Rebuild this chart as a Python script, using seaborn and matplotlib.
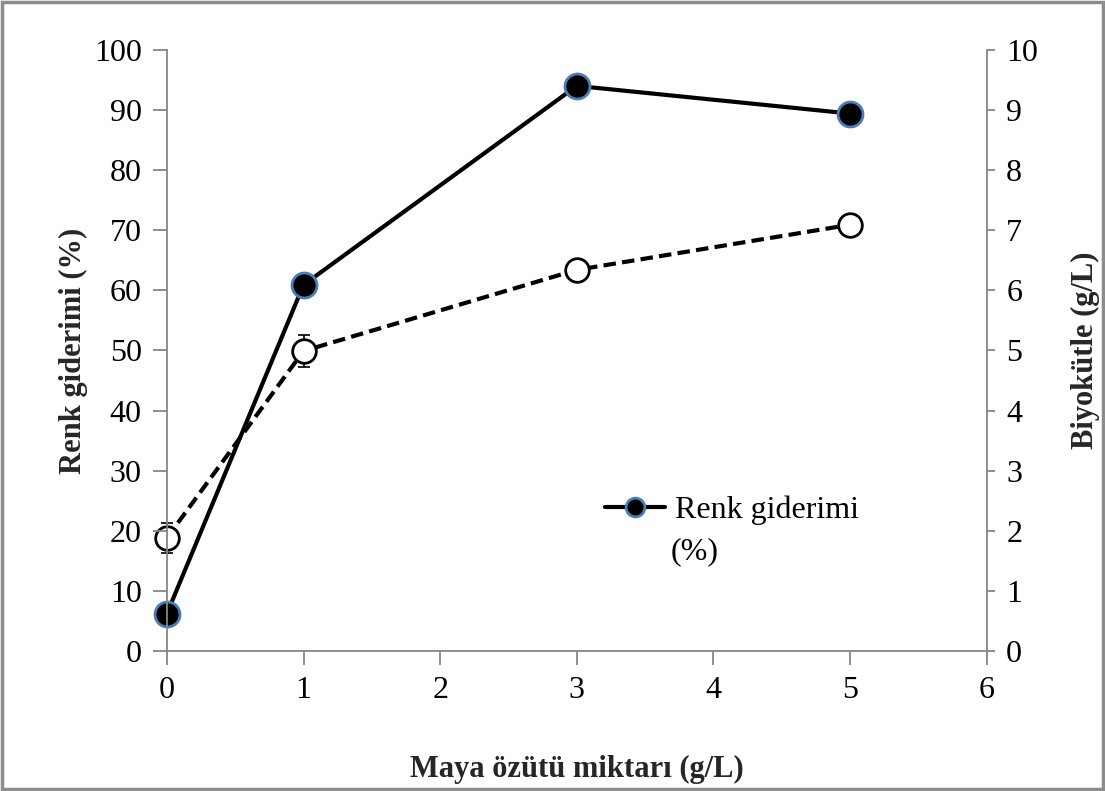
import matplotlib
matplotlib.use("Agg")
import matplotlib.pyplot as plt
import seaborn as sns
import pandas as pd
from matplotlib.patches import Rectangle

maya = [0, 1, 3, 5]
renk = [6.2, 60.9, 94.0, 89.4]
biyokutle = [1.88, 4.99, 6.34, 7.09]
biyo_err = [0.25, 0.27, 0, 0]

sns.set_theme(style="white")
plt.rcParams['font.family'] = ['Liberation Serif', 'DejaVu Serif']
plt.rcParams['text.color'] = 'black'

df1 = pd.DataFrame({"x": maya, "y": renk})
df2 = pd.DataFrame({"x": maya, "y": biyokutle})

fig = plt.figure(figsize=(11.05, 7.91), dpi=100)
ax = fig.add_axes([0.151, 0.177, 0.742, 0.760])
ax2 = ax.twinx()

gray = "#868686"

# Biyokütle (right axis) dashed, open markers
ax2.errorbar(maya, biyokutle, yerr=biyo_err, fmt="none", ecolor="black",
             elinewidth=1.2, capsize=4.5, capthick=1.2, zorder=2, clip_on=False)
sns.lineplot(data=df2, x="x", y="y", ax=ax2, color="black", linewidth=3,
             linestyle=(0, (3, 1.5)), marker="o", markersize=17,
             markerfacecolor="white", markeredgecolor="black",
             markeredgewidth=2, legend=False, zorder=3, clip_on=False)

# Renk giderimi (left axis) solid, filled markers
sns.lineplot(data=df1, x="x", y="y", ax=ax, color="black", linewidth=3,
             marker="o", markersize=18, markerfacecolor="black",
             markeredgecolor="#4a7ebb", markeredgewidth=2,
             label="Renk giderimi", legend=False, clip_on=False)

ax.set_zorder(ax2.get_zorder() + 1)
ax.patch.set_visible(False)

ax.set_xlim(0, 6)
ax.set_ylim(0, 100)
ax2.set_ylim(0, 10)
ax.set_xticks(range(0, 7))
ax.set_yticks(range(0, 101, 10))
ax2.set_yticks(range(0, 11))

for a in (ax, ax2):
    for s in a.spines.values():
        s.set_color(gray)
        s.set_linewidth(1.3)
    a.spines['top'].set_visible(False)

ax.spines['right'].set_visible(False)
ax2.spines['left'].set_visible(False)
ax2.spines['bottom'].set_visible(False)

ax.tick_params(axis='both', direction='out', length=10, width=1.3, color=gray,
               labelsize=23, pad=8, left=True, bottom=True, labelcolor="black")
ax2.tick_params(axis='y', direction='out', length=6, width=1.3, color=gray,
                labelsize=23, pad=8, right=True, labelcolor="black")

ax.set_xlabel("Maya özütü miktarı (g/L)", fontsize=22, fontweight="bold", labelpad=36)
ax.set_ylabel("Renk giderimi (%)", fontsize=22, fontweight="bold", labelpad=4)
ax2.set_ylabel("Biyokütle (g/L)", fontsize=22, fontweight="bold", labelpad=24)

leg = ax.legend(loc="center left", bbox_to_anchor=(0.534, 0.2346), frameon=False,
                fontsize=23, handlelength=1.9, handletextpad=0.3,
                borderaxespad=0, borderpad=0, markerscale=0.75)
ax.text(0.614, 0.165, "(%)", transform=ax.transAxes, fontsize=23,
        ha="left", va="center", color="black")

fig.patches.append(Rectangle((0.002, 0.002), 0.996, 0.996, transform=fig.transFigure,
                             fill=False, edgecolor="#8c8c8c", linewidth=2.5))

fig.savefig("out.png", dpi=100)
